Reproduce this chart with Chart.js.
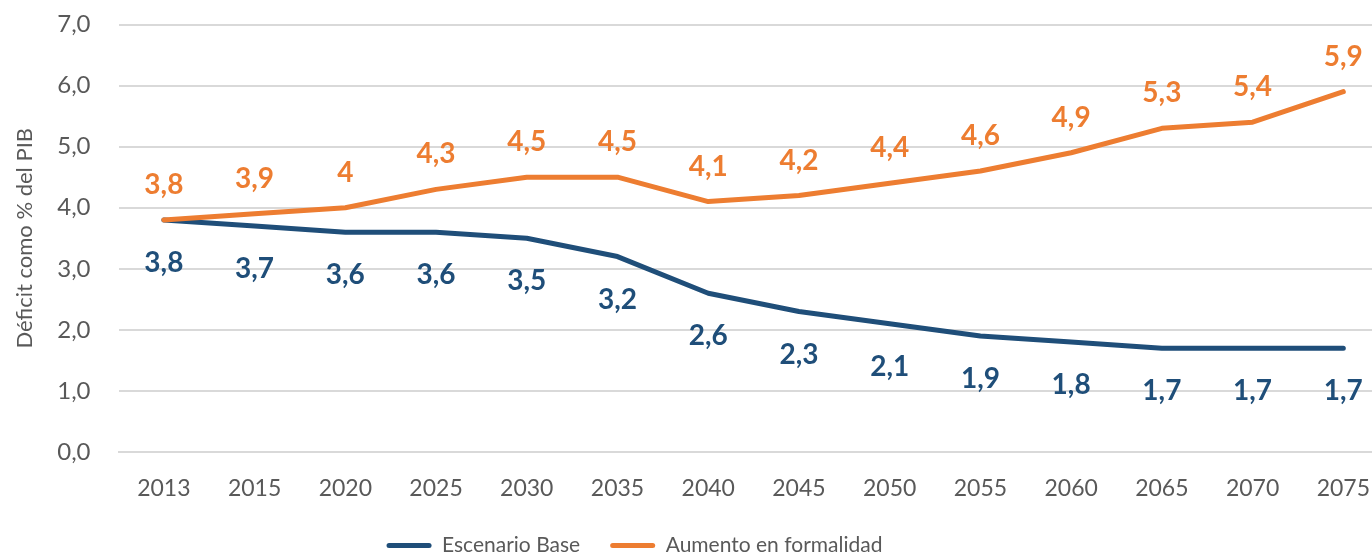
<!DOCTYPE html>
<html>
<head>
<meta charset="utf-8">
<script src="https://cdn.jsdelivr.net/npm/chart.js@4"></script>
<style>
html,body{margin:0;padding:0;background:#fff;overflow:hidden;width:1372px;height:556px;}
canvas{display:block;}
</style>
</head>
<body>
<canvas id="c" width="1393" height="556"></canvas>
<script>
const categories = ['2013','2015','2020','2025','2030','2035','2040','2045','2050','2055','2060','2065','2070','2075'];
const escenarioBase = [3.8,3.7,3.6,3.6,3.5,3.2,2.6,2.3,2.1,1.9,1.8,1.7,1.7,1.7];
const aumentoFormalidad = [3.8,3.9,4,4.3,4.5,4.5,4.1,4.2,4.4,4.6,4.9,5.3,5.4,5.9];
const seriesNames = ['Escenario Base','Aumento en formalidad'];
const yTicks = [0,1,2,3,4,5,6,7];

const BLUE = '#1F4E79';
const ORANGE = '#ED7D31';
const GRAY_TEXT = '#595959';
const FONT = 'Lato, "Open Sans", sans-serif';

const fmt = v => String(v).replace('.', ',');

const dataLabels = {
  id: 'dataLabels',
  afterDatasetsDraw(chart) {
    const ctx = chart.ctx;
    ctx.save();
    ctx.font = 'bold 28px ' + FONT;
    ctx.textAlign = 'center';
    ctx.textBaseline = 'alphabetic';
    chart.data.datasets.forEach((ds, di) => {
      const meta = chart.getDatasetMeta(di);
      const off = ds.labelOffset;
      ctx.fillStyle = ds.borderColor;
      meta.data.forEach((pt, i) => {
        ctx.fillText(fmt(ds.data[i]), pt.x, pt.y + off);
      });
    });
    ctx.restore();
  }
};

const legendShift = {
  id: 'legendShift',
  afterLayout(chart) {
    const lg = chart.legend;
    if (lg) { lg.left -= 62; lg.right -= 62; }
  }
};

new Chart(document.getElementById('c'), {
  type: 'line',
  data: {
    labels: categories,
    datasets: [
      {label: seriesNames[0], data: escenarioBase, borderColor: BLUE, backgroundColor: BLUE,
       borderWidth: 5, pointRadius: 0, tension: 0, order: 1, labelOffset: 52,
       borderCapStyle: 'round', borderJoinStyle: 'round'},
      {label: seriesNames[1], data: aumentoFormalidad, borderColor: ORANGE, backgroundColor: ORANGE,
       borderWidth: 5, pointRadius: 0, tension: 0, order: 0, labelOffset: -26,
       borderCapStyle: 'round', borderJoinStyle: 'round'}
    ]
  },
  plugins: [dataLabels, legendShift],
  options: {
    responsive: false,
    animation: false,
    layout: {padding: {top: 24.5, right: 0, bottom: -10, left: 0}},
    plugins: {
      tooltip: {enabled: false},
      legend: {
        position: 'bottom',
        labels: {
          color: GRAY_TEXT,
          font: {family: FONT, size: 21},
          boxWidth: 45,
          boxHeight: 5,
          padding: 30,
          useBorderRadius: true,
          borderRadius: 2.5,
          generateLabels(chart) {
            const items = Chart.defaults.plugins.legend.labels.generateLabels(chart);
            items.forEach(it => { it.lineWidth = 0; it.strokeStyle = 'rgba(0,0,0,0)'; });
            return items.sort((a, b) => a.datasetIndex - b.datasetIndex);
          }
        }
      }
    },
    scales: {
      x: {
        offset: true,
        grid: {display: false, drawTicks: false},
        border: {display: true, color: '#D9D9D9', width: 2},
        ticks: {color: GRAY_TEXT, font: {family: FONT, size: 23}, padding: 23, maxRotation: 0, autoSkip: false},
        afterFit(s) { s.height = 53; }
      },
      y: {
        min: 0, max: 7,
        afterBuildTicks(s) { s.ticks = yTicks.map(v => ({value: v})); },
        grid: {color: '#D9D9D9', lineWidth: 2, drawTicks: true, tickLength: 28, tickColor: 'rgba(0,0,0,0)'},
        border: {display: false},
        ticks: {color: GRAY_TEXT, font: {family: FONT, size: 24}, padding: 0,
                callback: v => v.toFixed(1).replace('.', ',')},
        title: {display: true, text: 'Déficit como % del PIB', color: GRAY_TEXT,
                font: {family: FONT, size: 22}, padding: {top: 12, bottom: 0}},
        afterFit(s) { s.width = 118.5; }
      }
    }
  }
});
</script>
</body>
</html>
